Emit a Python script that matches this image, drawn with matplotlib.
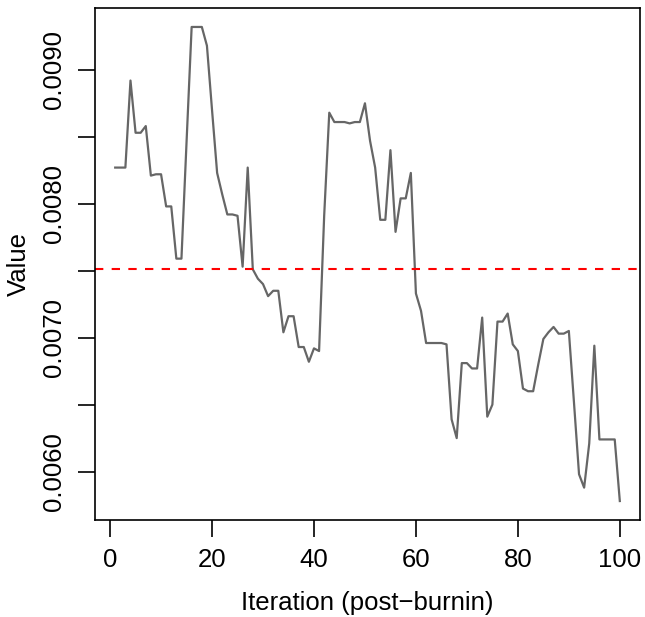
import numpy as np
import matplotlib
matplotlib.use("Agg")
import matplotlib.pyplot as plt
from matplotlib.ticker import FixedLocator, FuncFormatter

# trace values (iterations 1..100)
iteration = np.arange(1, 101)
value = [
    0.00827, 0.00827, 0.00827, 0.00892, 0.00853, 0.00853, 0.00858, 0.00821, 0.00822, 0.00822,
    0.00798, 0.00798, 0.00759, 0.00759, 0.00846, 0.00932, 0.00932, 0.00932, 0.00918, 0.00870,
    0.00823, 0.00807, 0.00792, 0.00792, 0.00791, 0.00753, 0.00827, 0.00751, 0.00744, 0.00740,
    0.00731, 0.00735, 0.00735, 0.00704, 0.00716, 0.00716, 0.00693, 0.00693, 0.00682, 0.00692,
    0.00690, 0.00791, 0.00868, 0.00861, 0.00861, 0.00861, 0.00860, 0.00861, 0.00861, 0.00875,
    0.00847, 0.00827, 0.00788, 0.00788, 0.00840, 0.00779, 0.00804, 0.00804, 0.00823, 0.00733,
    0.00720, 0.00696, 0.00696, 0.00696, 0.00696, 0.00695, 0.00639, 0.00625, 0.00681, 0.00681,
    0.00677, 0.00677, 0.00715, 0.00641, 0.00650, 0.00712, 0.00712, 0.00718, 0.00695, 0.00690,
    0.00662, 0.00660, 0.00660, 0.00680, 0.00699, 0.00704, 0.00708, 0.00703, 0.00703, 0.00705,
    0.00652, 0.00598, 0.00588, 0.00621, 0.00694, 0.00624, 0.00624, 0.00624, 0.00624, 0.00578,
]
mean_line = 0.00751

xticks = [0, 20, 40, 60, 80, 100]
yticks = [0.0060, 0.0065, 0.0070, 0.0075, 0.0080, 0.0085, 0.0090]
ylabels_shown = [0.0060, 0.0070, 0.0080, 0.0090]

plt.rcParams['font.family'] = ['Liberation Sans', 'DejaVu Sans']

fig = plt.figure(figsize=(6.45, 6.17), dpi=100)
ax = fig.add_axes([95/645, 97/617, 545/645, 512/617])

ax.plot(iteration, value, color='#666666', lw=1.6)
ax.axhline(mean_line, color='red', lw=1.5, ls=(0, (4, 4)))

# R style 4% padding
xr = iteration.max() - iteration.min()
ax.set_xlim(iteration.min() - 0.04*xr, iteration.max() + 0.04*xr)
yr = max(value) - min(value)
ax.set_ylim(min(value) - 0.04*yr, max(value) + 0.04*yr)

ax.xaxis.set_major_locator(FixedLocator(xticks))
ax.yaxis.set_major_locator(FixedLocator(yticks))
ax.yaxis.set_major_formatter(FuncFormatter(
    lambda v, p: "%.4f" % v if any(abs(v - s) < 1e-9 for s in ylabels_shown) else ""))

ax.tick_params(direction='out', length=12, width=1.2, labelsize=18.5, pad=8)
ax.tick_params(axis='y', labelrotation=90, pad=9)
for t in ax.get_yticklabels():
    t.set_va('center')
for s in ax.spines.values():
    s.set_linewidth(1.2)

ax.set_xlabel("Iteration (post\u2212burnin)", fontsize=18.5, labelpad=14)
ax.set_ylabel("Value", fontsize=18.5, labelpad=8)

fig.savefig("out.png", dpi=100)
